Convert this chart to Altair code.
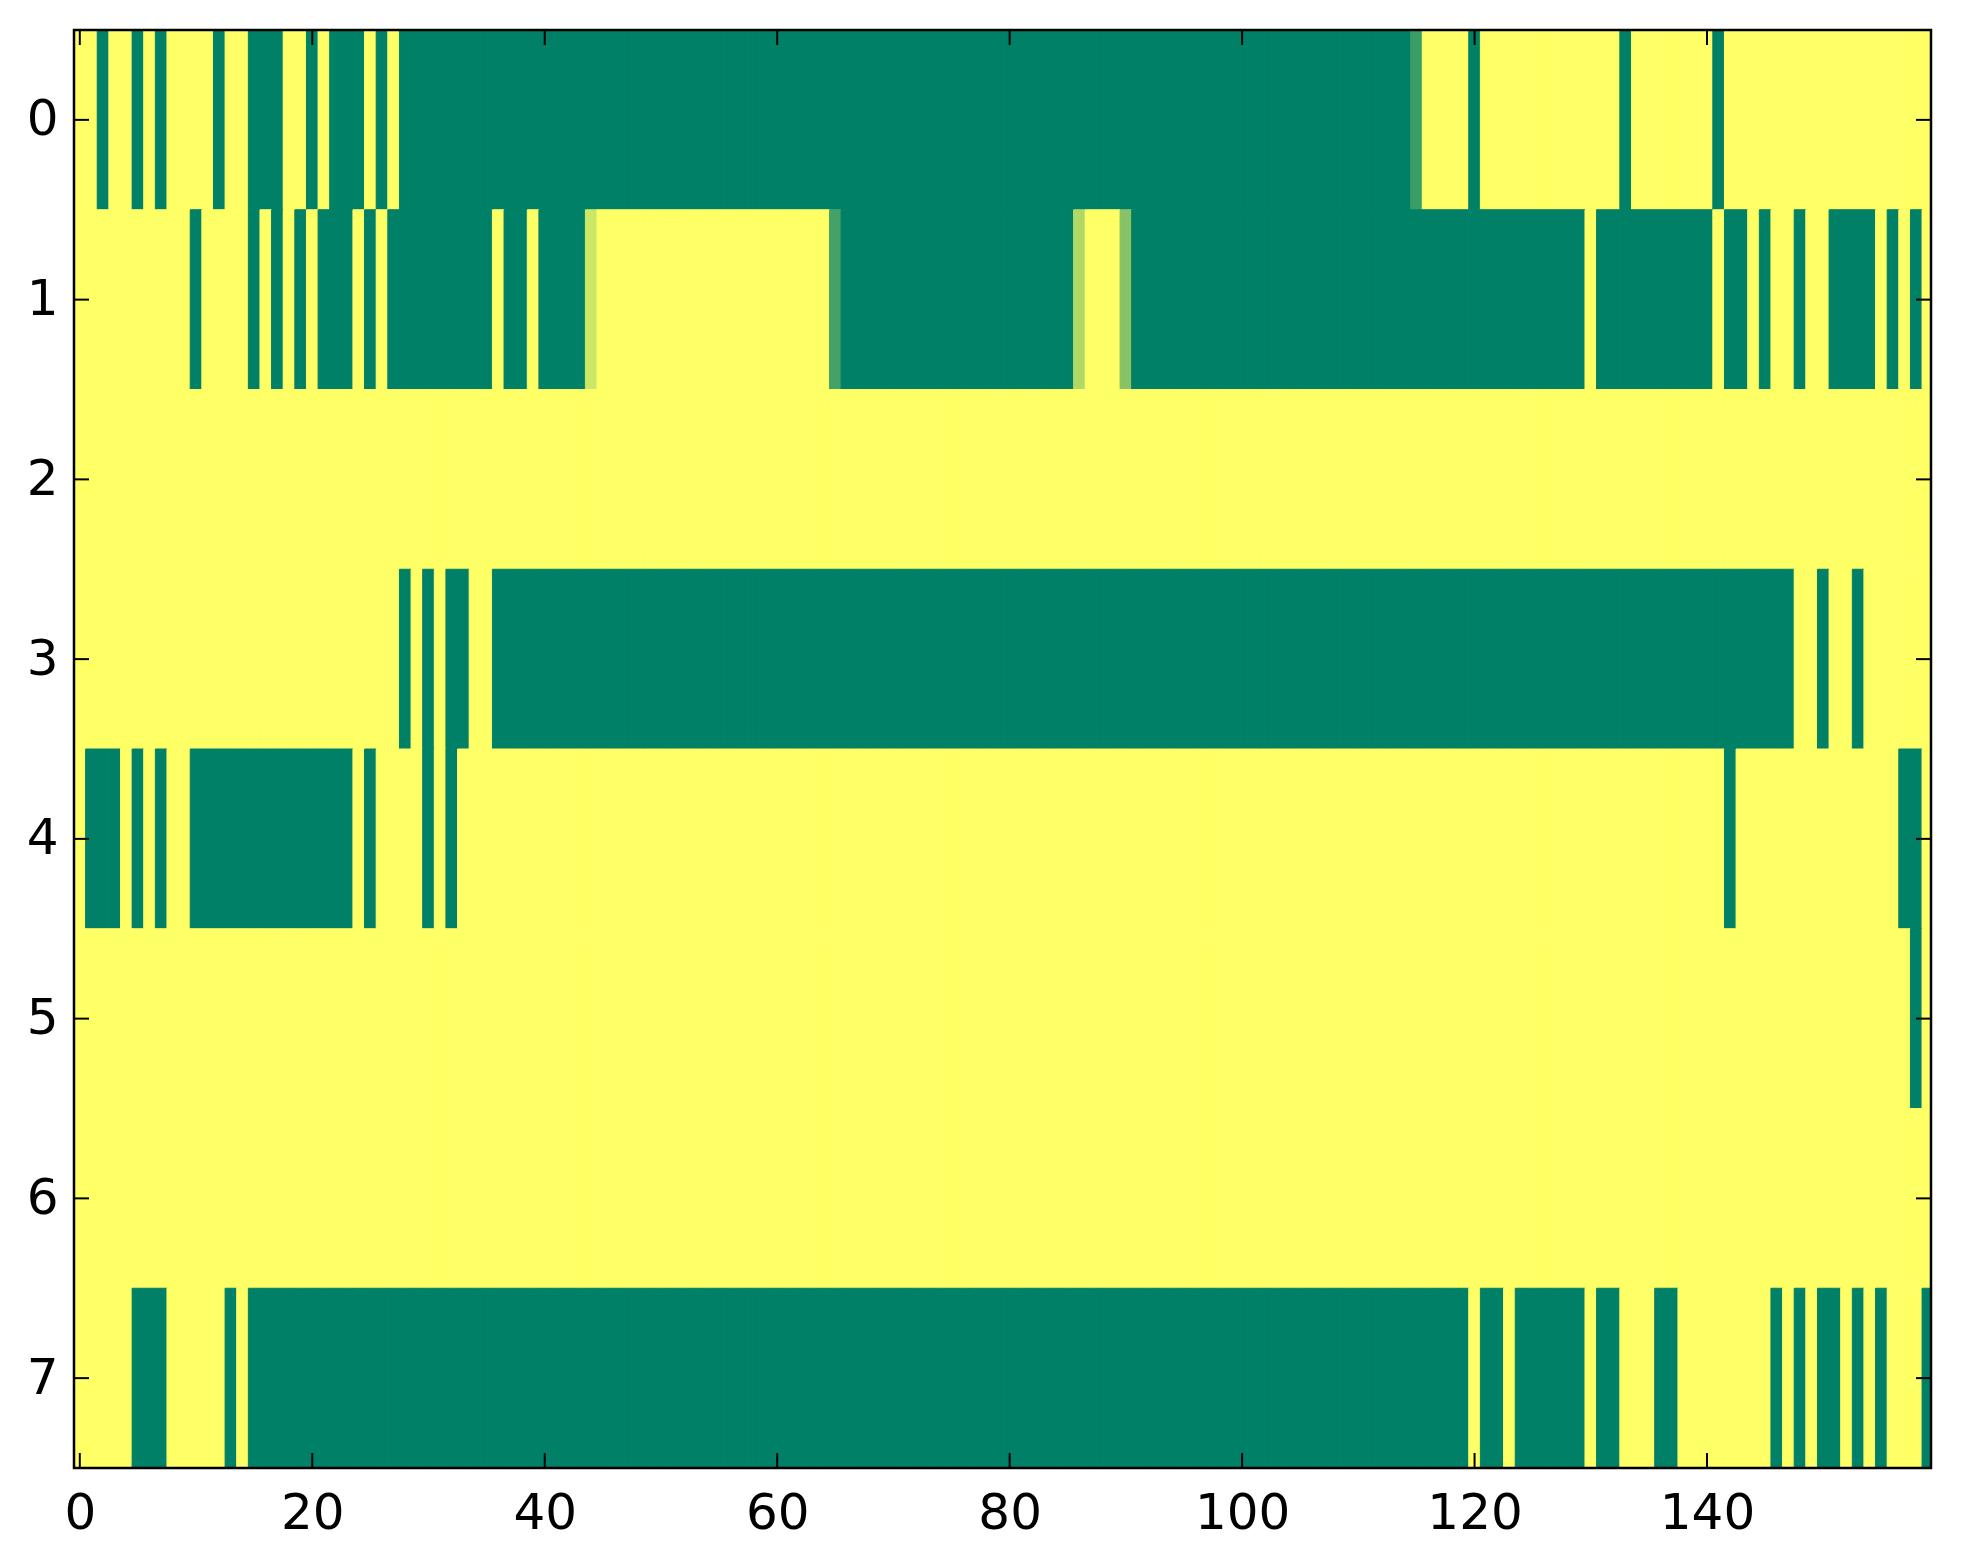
import altair as alt
import pandas as pd

# Heatmap rows as run-lengths: (value, number of consecutive columns)
# value 0 = dark green, 1 = yellow (summer colormap), intermediate values in between
row0 = [(1,2),(0,1),(1,2),(0,1),(1,1),(0,1),(1,4),(0,1),(1,2),(0,3),(1,2),(0,1),(1,1),(0,3),(1,1),(0,1),(1,1),(0,87),(0.23,1),(1,4),(0,1),(1,12),(0,1),(1,7),(0,1),(1,18)]
row1 = [(1,10),(0,1),(1,4),(0,1),(1,1),(0,1),(1,1),(0,1),(1,1),(0,3),(1,1),(0,1),(1,1),(0,9),(1,1),(0,2),(1,1),(0,4),(0.8,1),(1,20),(0.27,1),(0,20),(0.69,1),(1,3),(0.53,1),(0,39),(1,1),(0,10),(1,1),(0,2),(1,1),(0,1),(1,2),(0,1),(1,2),(0,4),(1,1),(0,1),(1,1),(0,1),(1,1)]
row2 = [(1,160)]
row3 = [(1,28),(0,1),(1,1),(0,1),(1,1),(0,2),(1,2),(0,112),(1,2),(0,1),(1,2),(0,1),(1,6)]
row4 = [(1,1),(0,3),(1,1),(0,1),(1,1),(0,1),(1,2),(0,14),(1,1),(0,1),(1,4),(0,1),(1,1),(0,1),(1,109),(0,1),(1,14),(0,2),(1,1)]
row5 = [(1,158),(0,1),(1,1)]
row6 = [(1,160)]
row7 = [(1,5),(0,3),(1,5),(0,1),(1,1),(0,105),(1,1),(0,2),(1,1),(0,6),(1,1),(0,2),(1,3),(0,2),(1,8),(0,1),(1,1),(0,1),(1,1),(0,2),(1,1),(0,1),(1,1),(0,1),(1,3),(0,1)]
rows = [row0, row1, row2, row3, row4, row5, row6, row7]

x_ticks = [0, 20, 40, 60, 80, 100, 120, 140]
y_ticks = [0, 1, 2, 3, 4, 5, 6, 7]

records = []
for r, runs in enumerate(rows):
    c = 0
    for v, n in runs:
        for _ in range(n):
            records.append({"row": r, "col": c, "v": v})
            c += 1
cells = pd.DataFrame(records)

W, H = 1857, 1438
FONT = "DejaVu Sans"

xscale = alt.Scale(domain=[-0.5, 159.27], nice=False, zero=False)
yscale = alt.Scale(domain=[7.5, -0.5], nice=False, zero=False)
cscale = alt.Scale(domain=[0, 1], range=["#008066", "#ffff66"], interpolate="rgb")

heat = alt.Chart(cells).transform_calculate(
    x0="datum.col - 0.5", x1="datum.col + 0.5",
    y0="datum.row - 0.5", y1="datum.row + 0.5"
).mark_rect(strokeWidth=1, clip=True).encode(
    x=alt.X("x0:Q", scale=xscale,
            axis=alt.Axis(values=x_ticks, title=None, grid=False, ticks=False, domain=False,
                          labelFontSize=50, labelFont=FONT, labelColor="black",
                          labelPadding=20, labelFlush=False, format="d")),
    x2="x1:Q",
    y=alt.Y("y0:Q", scale=yscale,
            axis=alt.Axis(values=y_ticks, title=None, grid=False, ticks=False, domain=False,
                          labelFontSize=50, labelFont=FONT, labelColor="black",
                          labelPadding=16, labelFlush=False, format="d")),
    y2="y1:Q",
    fill=alt.Fill("v:Q", scale=cscale, legend=None),
    stroke=alt.Stroke("v:Q", scale=cscale, legend=None),
)

xt = pd.DataFrame({"t": x_ticks})
yt = pd.DataFrame({"t": y_ticks})

tick_top = alt.Chart(xt).mark_rule(color="black", strokeWidth=2).encode(
    x=alt.X("t:Q", scale=xscale), y=alt.value(0), y2=alt.value(15))
tick_bot = alt.Chart(xt).mark_rule(color="black", strokeWidth=2).encode(
    x=alt.X("t:Q", scale=xscale), y=alt.value(H), y2=alt.value(H - 15))
tick_left = alt.Chart(yt).mark_rule(color="black", strokeWidth=2).encode(
    y=alt.Y("t:Q", scale=yscale), x=alt.value(0), x2=alt.value(15))
tick_right = alt.Chart(yt).mark_rule(color="black", strokeWidth=2).encode(
    y=alt.Y("t:Q", scale=yscale), x=alt.value(W), x2=alt.value(W - 15))

frame = alt.Chart(xt.head(1)).mark_rect(fill=None, stroke="black", strokeWidth=2.5).encode(
    x=alt.value(0), x2=alt.value(W), y=alt.value(0), y2=alt.value(H))

chart = alt.layer(heat, tick_top, tick_bot, tick_left, tick_right, frame).properties(
    width=W, height=H,
    autosize=alt.AutoSizeParams(type="none"),
    padding={"left": 66, "top": 22, "right": 20, "bottom": 80},
    background="white",
).configure_view(strokeWidth=0)

chart.save("out.html", embed_options={"renderer": "svg", "actions": False})
